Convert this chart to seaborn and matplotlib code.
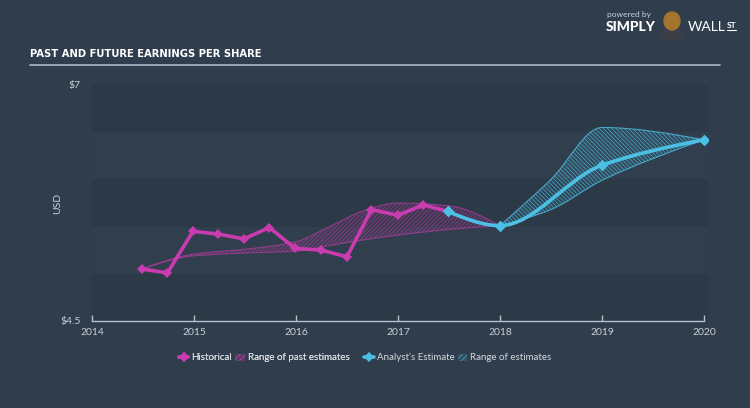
import numpy as np
import pandas as pd
import seaborn as sns
import matplotlib
matplotlib.use("Agg")
import matplotlib.pyplot as plt
from matplotlib.path import Path
from matplotlib.patches import PathPatch, Patch, Ellipse
from matplotlib.lines import Line2D

# ---------------- data ----------------
hist_x = [2014.49, 2014.74, 2014.99, 2015.24, 2015.49, 2015.74, 2015.99,
          2016.25, 2016.50, 2016.74, 2017.00, 2017.25, 2017.49]
hist_y = [5.05, 5.01, 5.45, 5.42, 5.37, 5.49, 5.27,
          5.25, 5.18, 5.68, 5.62, 5.73, 5.66]

est_x = [2017.49, 2018.0, 2019.0, 2020.0]
est_y = [5.66, 5.51, 6.15, 6.42]

past_rng_x = [2014.49, 2015.0, 2015.5, 2016.0, 2016.33, 2016.67, 2017.0, 2017.5, 2018.0]
past_rng_hi = [5.05, 5.21, 5.26, 5.34, 5.50, 5.67, 5.75, 5.72, 5.51]
past_rng_lo = [5.05, 5.19, 5.22, 5.24, 5.30, 5.36, 5.41, 5.47, 5.51]

fut_rng_x = [2018.0, 2018.5, 2019.0, 2020.0]
fut_rng_hi = [5.51, 6.00, 6.55, 6.42]
fut_rng_lo = [5.51, 5.68, 5.99, 6.42]

year_ticks = [2014, 2015, 2016, 2017, 2018, 2019, 2020]
y_ticks = [4.5, 7.0]
y_tick_labels = ["$4.5", "$7"]

# ---------------- style ----------------
BG = "#2f3d4c"
BAND_DARK = "#2c3947"
BAND_LIGHT = "#313e4d"
MAGENTA = "#c93cb0"
CYAN = "#4cc0e4"
TXT = "#c9cfd6"

sns.set_style("dark")
plt.rcParams["font.family"] = ["Lato", "DejaVu Sans"]
plt.rcParams["hatch.linewidth"] = 0.5


def monotone_path(xs, ys):
    """Monotone cubic (Fritsch-Carlson) Bezier path through the points."""
    x = np.asarray(xs, float)
    y = np.asarray(ys, float)
    n = len(x)
    h = np.diff(x)
    d = np.diff(y) / h
    m = np.zeros(n)
    m[0], m[-1] = d[0], d[-1]
    for i in range(1, n - 1):
        if d[i - 1] * d[i] <= 0:
            m[i] = 0.0
        else:
            w1 = 2 * h[i] + h[i - 1]
            w2 = h[i] + 2 * h[i - 1]
            m[i] = (w1 + w2) / (w1 / d[i - 1] + w2 / d[i])
    if n > 2:
        m[0] = (3 * d[0] - m[1]) / 2 if d[0] * (3 * d[0] - m[1]) > 0 else 0.0
        m[-1] = (3 * d[-1] - m[-2]) / 2 if d[-1] * (3 * d[-1] - m[-2]) > 0 else 0.0
    verts = [(x[0], y[0])]
    codes = [Path.MOVETO]
    for i in range(n - 1):
        dx = h[i] / 3.0
        verts += [(x[i] + dx, y[i] + m[i] * dx),
                  (x[i + 1] - dx, y[i + 1] - m[i + 1] * dx),
                  (x[i + 1], y[i + 1])]
        codes += [Path.CURVE4] * 3
    return verts, codes


def band_path(xs, hi, lo):
    v1, c1 = monotone_path(xs, hi)
    v2, c2 = monotone_path(xs, lo)
    v2r = v2[::-1]
    verts = v1 + [v2r[0]] + v2r[1:] + [v1[0]]
    codes = c1 + [Path.LINETO] + [Path.CURVE4] * (len(v2r) - 1) + [Path.CLOSEPOLY]
    return Path(verts, codes)


fig = plt.figure(figsize=(7.5, 4.08), dpi=100, facecolor=BG)
ax = fig.add_axes([92 / 750, 87 / 408, 616 / 750, 236 / 408])
ax.set_facecolor(BG)

# alternating bands
for i, lo in enumerate(np.arange(4.5, 7.0, 0.5)):
    ax.axhspan(lo, lo + 0.5, color=BAND_DARK if i % 2 == 0 else BAND_LIGHT, lw=0, zorder=0)

# range of past estimates
pp = band_path(past_rng_x, past_rng_hi, past_rng_lo)
ax.add_patch(PathPatch(pp, facecolor=(0.79, 0.24, 0.69, 0.10), edgecolor="none", zorder=1))
ax.add_patch(PathPatch(pp, facecolor="none", edgecolor=(0.79, 0.24, 0.69, 0.6),
                       hatch="////////", lw=0.8, zorder=1))

# range of estimates
fp = band_path(fut_rng_x, fut_rng_hi, fut_rng_lo)
ax.add_patch(PathPatch(fp, facecolor=(0.30, 0.75, 0.89, 0.10), edgecolor="none", zorder=1))
ax.add_patch(PathPatch(fp, facecolor="none", edgecolor=(0.30, 0.75, 0.89, 0.8),
                       hatch="\\\\\\\\\\\\\\\\", lw=0.8, zorder=1))

# historical
hist_df = pd.DataFrame({"year": hist_x, "eps": hist_y})
sns.lineplot(data=hist_df, x="year", y="eps", ax=ax, color=MAGENTA, lw=2.6,
             marker="D", markersize=5, markeredgewidth=0, zorder=3)

# analyst estimate (smooth line + markers)
ev, ec = monotone_path(est_x, est_y)
ax.add_patch(PathPatch(Path(ev, ec), facecolor="none", edgecolor=CYAN, lw=2.6, zorder=4,
                       capstyle="round"))
est_df = pd.DataFrame({"year": est_x, "eps": est_y})
sns.scatterplot(data=est_df, x="year", y="eps", ax=ax, color=CYAN, marker="D", s=35,
                linewidth=0, zorder=5)

ax.set_xlim(2014, 2020.04)
ax.set_ylim(4.5, 7.0)
ax.set_xticks(year_ticks)
ax.set_xticklabels([str(y) for y in year_ticks])
ax.set_yticks(y_ticks)
ax.set_yticklabels(y_tick_labels)
ax.set_xlabel("")
ax.set_ylabel("USD", color=TXT, fontsize=7.5)
ax.yaxis.set_label_coords(-30 / 616, 0.5)
ax.grid(False)
for s in ["top", "right", "left"]:
    ax.spines[s].set_visible(False)
ax.spines["bottom"].set_visible(True)
ax.spines["bottom"].set_color("#b9c1ca")
ax.spines["bottom"].set_linewidth(1.0)
ax.spines["bottom"].set_bounds(2014, 2020)
ax.tick_params(axis="x", direction="in", length=4, width=1, color="#b9c1ca",
               colors=TXT, labelsize=7.5, pad=5, bottom=True)
ax.tick_params(axis="y", length=0, colors=TXT, labelsize=7.5, pad=8)

# title and underline
fig.text(30 / 750, 1 - 54 / 408, "PAST AND FUTURE EARNINGS PER SHARE", color="white",
         fontsize=8, fontweight="bold", fontstretch="condensed", va="center", ha="left",
         family=["DejaVu Sans"])
fig.add_artist(Line2D([30 / 750, 720 / 750], [1 - 65 / 408, 1 - 65 / 408],
                      color="#aeb7c1", lw=1.2, transform=fig.transFigure))

# logo
fig.text(607 / 750, 1 - 14 / 408, "powered by", color="#c9cfd6", fontsize=6, va="center", ha="left")
fig.text(606 / 750, 1 - 27 / 408, "SIMPLY", color="white", fontsize=10, fontweight="black",
         va="center", ha="left")
fig.text(688 / 750, 1 - 27 / 408, "WALL", color="white", fontsize=10,
         va="center", ha="left")
fig.text(727 / 750, 1 - 25 / 408, "ST", color="white", fontsize=6, fontweight="bold",
         va="center", ha="left")
fig.add_artist(Line2D([727 / 750, 736 / 750], [1 - 30 / 408, 1 - 30 / 408],
                      color="white", lw=0.8, transform=fig.transFigure))
fig.add_artist(Ellipse((672 / 750, 1 - 34 / 408), 22 / 750, 12 / 408,
                       transform=fig.transFigure, color="#3b3f48", zorder=4))
fig.add_artist(Ellipse((672 / 750, 1 - 21 / 408), 16 / 750, 18 / 408,
                       transform=fig.transFigure, color="#a4732e", zorder=5))

# legends (two groups)
TXT_LEG = "#d4d9de"
h1 = [Line2D([0], [0], color=MAGENTA, lw=2.6, marker="D", markersize=5, markeredgewidth=0),
      Patch(facecolor=(0.79, 0.24, 0.69, 0.15), edgecolor=(0.79, 0.24, 0.69, 0.7),
            hatch="//////", lw=0)]
l1 = ["Historical", "Range of past estimates"]
h2 = [Line2D([0], [0], color=CYAN, lw=2.6, marker="D", markersize=5, markeredgewidth=0),
      Patch(facecolor=(0.30, 0.75, 0.89, 0.15), edgecolor=(0.30, 0.75, 0.89, 0.8),
            hatch="//////", lw=0)]
l2 = ["Analyst's Estimate", "Range of estimates"]
kw = dict(loc="center", ncol=2, frameon=False, fontsize=7, labelcolor=TXT_LEG,
          handlelength=1.0, handletextpad=0.3, columnspacing=0.3, handleheight=0.7)
leg1 = fig.legend(h1, l1, bbox_to_anchor=(264 / 750, 1 - 358 / 408), **kw)
fig.add_artist(leg1)
fig.legend(h2, l2, bbox_to_anchor=(458 / 750, 1 - 358 / 408), **kw)

fig.savefig("out.png", dpi=100, facecolor=BG)
